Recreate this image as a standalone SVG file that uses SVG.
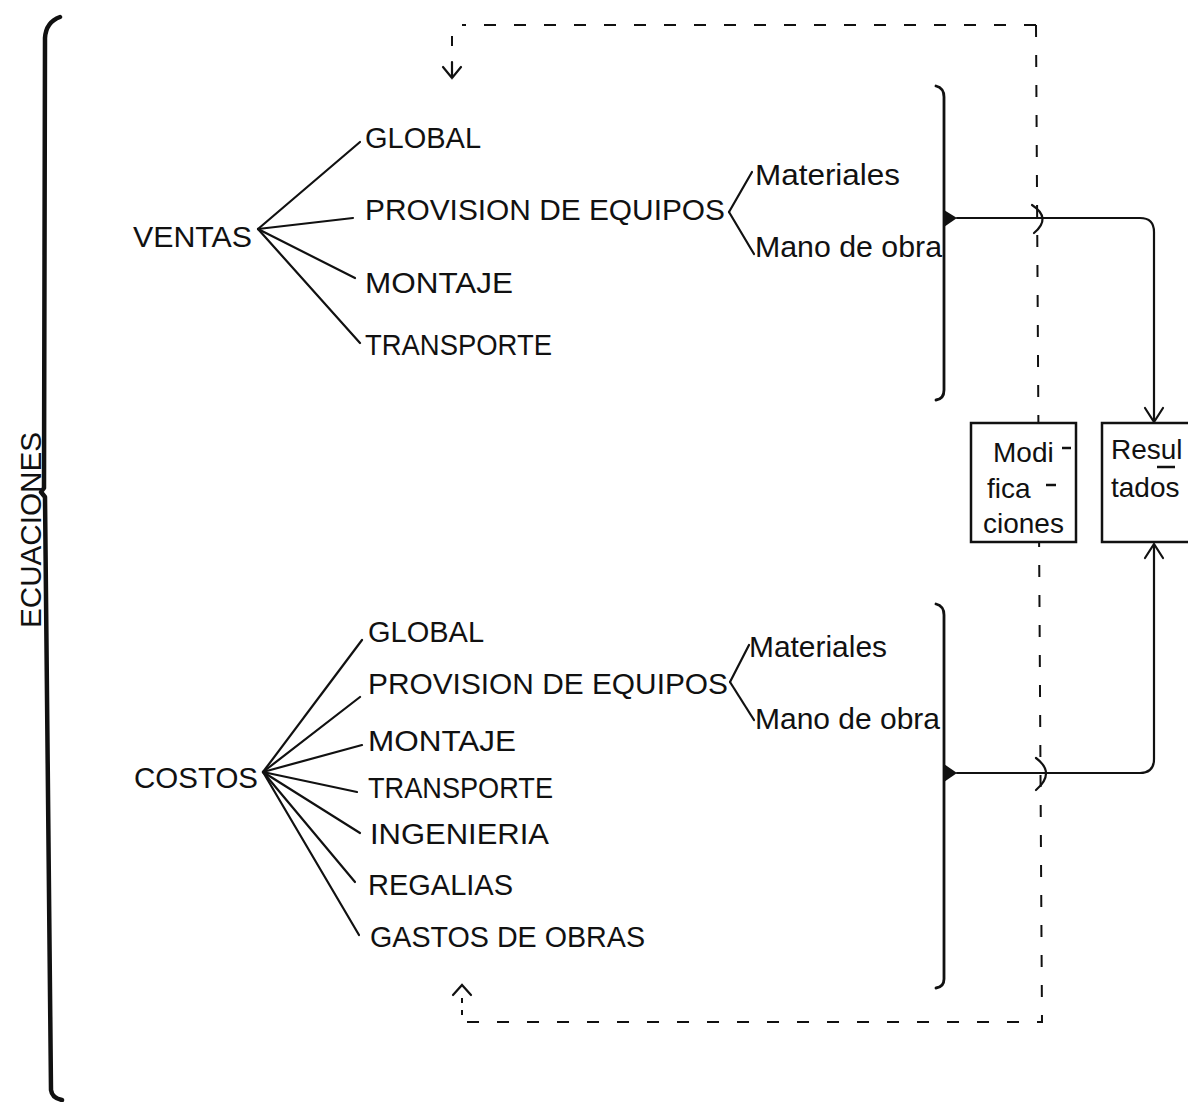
<svg xmlns="http://www.w3.org/2000/svg" width="1188" height="1102" viewBox="0 0 1188 1102">
  <style>
    .t { font-family: "Liberation Sans", Arial, sans-serif; font-size: 29px; fill: #111; }
    .s { font-family: "Liberation Sans", Arial, sans-serif; font-size: 28px; fill: #111; }
    .ln { stroke: #111; stroke-width: 2.2; fill: none; stroke-linecap: round; }
    .br { stroke: #111; stroke-width: 2.8; fill: none; stroke-linecap: round; stroke-linejoin: round; }
    .dash { stroke: #111; stroke-width: 2; fill: none; stroke-dasharray: 12 18; }
    .box { stroke: #111; stroke-width: 2.5; fill: #fff; }
  </style>
  <rect width="1188" height="1102" fill="#fff"/>

  <!-- left brace with the vertical title -->
  <g id="ecuaciones">
    <path d="M60,17 Q46,22 45,38 L44,488 L41,492 L45,497 L51,1090 Q52,1098 62,1100" stroke="#111" stroke-width="4.5" fill="none" stroke-linecap="round" stroke-linejoin="round"/>
    <text class="t" transform="translate(41,530) rotate(-90)" text-anchor="middle" textLength="196" lengthAdjust="spacingAndGlyphs">ECUACIONES</text>
  </g>

  <!-- sales tree -->
  <g id="ventas">
    <text class="t" x="133" y="247" textLength="119" lengthAdjust="spacingAndGlyphs">VENTAS</text>
    <line class="ln" x1="258" y1="229" x2="360" y2="142"/>
    <line class="ln" x1="258" y1="229" x2="353" y2="218"/>
    <line class="ln" x1="258" y1="229" x2="355" y2="278"/>
    <line class="ln" x1="258" y1="229" x2="360" y2="343"/>
  </g>
  <g id="ventas-global"><text class="t" x="365" y="148">GLOBAL</text></g>
  <g id="ventas-provision">
    <text class="t" x="365" y="220" textLength="360" lengthAdjust="spacingAndGlyphs">PROVISION DE EQUIPOS</text>
    <line class="ln" x1="729" y1="212" x2="752" y2="172"/>
    <line class="ln" x1="729" y1="212" x2="754" y2="254"/>
  </g>
  <g id="ventas-materiales"><text class="t" x="755" y="185" textLength="145" lengthAdjust="spacingAndGlyphs">Materiales</text></g>
  <g id="ventas-mano"><text class="t" x="755" y="257" textLength="187" lengthAdjust="spacingAndGlyphs">Mano de obra</text></g>
  <g id="ventas-montaje"><text class="t" x="365" y="293" textLength="148" lengthAdjust="spacingAndGlyphs">MONTAJE</text></g>
  <g id="ventas-transporte"><text class="t" x="365" y="355" textLength="187" lengthAdjust="spacingAndGlyphs">TRANSPORTE</text></g>
  <g id="ventas-bracket">
    <path class="br" d="M936,86 Q944,88 944,97 L944,390 Q944,399 936,400"/>
    <polygon points="944,210 957,218 944,227" fill="#111"/>
  </g>

  <!-- cost tree -->
  <g id="costos">
    <text class="t" x="134" y="788" textLength="124" lengthAdjust="spacingAndGlyphs">COSTOS</text>
    <line class="ln" x1="263" y1="772" x2="362" y2="640"/>
    <line class="ln" x1="263" y1="772" x2="360" y2="697"/>
    <line class="ln" x1="263" y1="772" x2="362" y2="745"/>
    <line class="ln" x1="263" y1="772" x2="357" y2="792"/>
    <line class="ln" x1="263" y1="772" x2="360" y2="833"/>
    <line class="ln" x1="263" y1="772" x2="355" y2="882"/>
    <line class="ln" x1="263" y1="772" x2="359" y2="935"/>
  </g>
  <g id="costos-global"><text class="t" x="368" y="642">GLOBAL</text></g>
  <g id="costos-provision">
    <text class="t" x="368" y="694" textLength="360" lengthAdjust="spacingAndGlyphs">PROVISION DE EQUIPOS</text>
    <line class="ln" x1="730" y1="682" x2="749" y2="645"/>
    <line class="ln" x1="730" y1="682" x2="754" y2="720"/>
  </g>
  <g id="costos-materiales"><text class="t" x="749" y="657" textLength="138" lengthAdjust="spacingAndGlyphs">Materiales</text></g>
  <g id="costos-mano"><text class="t" x="755" y="729" textLength="185" lengthAdjust="spacingAndGlyphs">Mano de obra</text></g>
  <g id="costos-montaje"><text class="t" x="368" y="751" textLength="148" lengthAdjust="spacingAndGlyphs">MONTAJE</text></g>
  <g id="costos-transporte"><text class="t" x="368" y="798" textLength="185" lengthAdjust="spacingAndGlyphs">TRANSPORTE</text></g>
  <g id="costos-ingenieria"><text class="t" x="370" y="844" textLength="179" lengthAdjust="spacingAndGlyphs">INGENIERIA</text></g>
  <g id="costos-regalias"><text class="t" x="368" y="895" textLength="145" lengthAdjust="spacingAndGlyphs">REGALIAS</text></g>
  <g id="costos-gastos"><text class="t" x="370" y="947" textLength="275" lengthAdjust="spacingAndGlyphs">GASTOS DE OBRAS</text></g>
  <g id="costos-bracket">
    <path class="br" d="M936,604 Q944,606 944,615 L944,979 Q944,987 936,988"/>
    <polygon points="944,764 957,773 944,782" fill="#111"/>
  </g>

  <!-- connectors -->
  <g id="connectors">
    <!-- feedback loop (dashed) -->
    <path class="dash" d="M1036,25 H462"/>
    <line x1="452" y1="36" x2="452" y2="46" stroke="#111" stroke-width="2"/>
    <path class="ln" d="M452,62 V78 M443,67 L452,78 L461,67"/>
    <path class="dash" d="M1036,25 L1042,1022 L462,1022"/>
    <line x1="462" y1="998" x2="462" y2="1015" stroke="#111" stroke-width="2" stroke-dasharray="5 7"/>
    <path class="ln" d="M453,995 L462,985 L471,995"/>

    <!-- sales results to Resultados -->
    <path class="ln" d="M957,218 H1140 Q1154,218 1154,232 V421"/>
    <path class="ln" d="M1032,205 Q1052,218 1034,233" stroke-width="2.6"/>
    <path class="ln" d="M1145,408 L1154,422 L1163,408"/>

    <!-- cost results to Resultados -->
    <path class="ln" d="M957,773 H1140 Q1154,773 1154,759 V545"/>
    <path class="ln" d="M1036,758 Q1056,773 1036,790" stroke-width="2.6"/>
    <path class="ln" d="M1145,558 L1154,544 L1163,558"/>
  </g>

  <g id="modificaciones">
    <rect class="box" x="971" y="423" width="105" height="119"/>
    <text class="s" x="993" y="462">Modi</text>
    <line x1="1062" y1="448" x2="1071" y2="448" stroke="#111" stroke-width="2.5"/>
    <text class="s" x="987" y="498">fica</text>
    <line x1="1046" y1="485" x2="1056" y2="485" stroke="#111" stroke-width="2.5"/>
    <text class="s" x="983" y="533">ciones</text>
  </g>

  <g id="resultados">
    <rect class="box" x="1102" y="423" width="100" height="119"/>
    <text class="s" x="1111" y="459">Resul</text>
    <line x1="1157" y1="467" x2="1175" y2="467" stroke="#111" stroke-width="2.5"/>
    <text class="s" x="1111" y="497">tados</text>
  </g>
</svg>
